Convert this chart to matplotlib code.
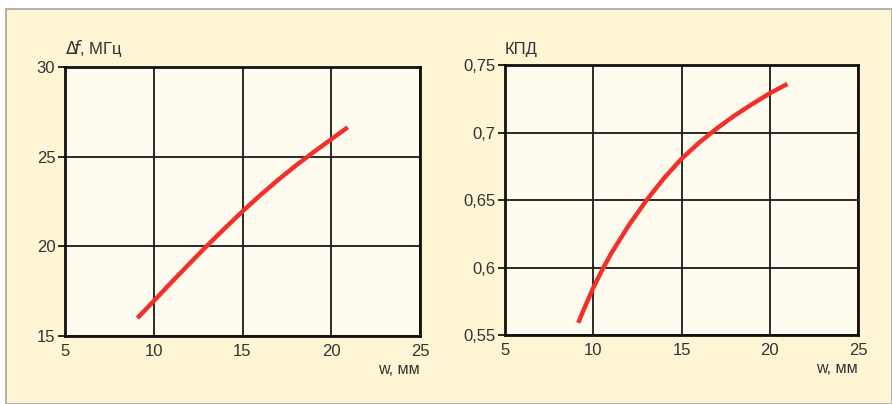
import matplotlib
matplotlib.use("Agg")
import matplotlib.pyplot as plt
from matplotlib.patches import Rectangle
from matplotlib.ticker import FuncFormatter

plt.rcParams['font.family'] = ['Liberation Sans', 'DejaVu Sans']

w_left = [9.08, 10, 11, 12, 13, 14, 15, 16, 17, 18, 19, 20, 20.93]
df_vals = [16.0, 16.95, 18.0, 19.02, 20.03, 21.0, 21.95, 22.85, 23.7, 24.5, 25.25, 25.97, 26.64]

w_right = [9.15, 9.5, 10, 10.5, 11, 12, 13, 14, 15, 16, 17, 18, 19, 20, 21]
kpd_vals = [0.559, 0.570, 0.585, 0.598, 0.610, 0.631, 0.6495, 0.666, 0.6805, 0.6925, 0.703,
            0.7125, 0.721, 0.729, 0.736]

x_ticks = [5, 10, 15, 20, 25]
y_ticks_left = [15, 20, 25, 30]
y_ticks_right = [0.55, 0.6, 0.65, 0.7, 0.75]

W, H = 892, 404
fig = plt.figure(figsize=(W / 100, H / 100), dpi=100)
fig.patch.set_facecolor('white')
fig.patches.append(Rectangle((6 / W, 0), 1 - 6 / W, 1 - 9 / H, transform=fig.transFigure,
                             facecolor='#fdf5d3', edgecolor='#a8a8a0', linewidth=1.2, zorder=-10))

red = '#f0302a'
panel_bg = '#fffcef'


def style(ax, yticks, fmt):
    ax.set_facecolor(panel_bg)
    ax.set_xlim(5, 25)
    ax.set_xticks(x_ticks)
    ax.set_ylim(yticks[0], yticks[-1])
    ax.set_yticks(yticks)
    ax.yaxis.set_major_formatter(FuncFormatter(fmt))
    ax.grid(True, color='#1a1a1a', linewidth=1.3)
    ax.set_axisbelow(True)
    for s in ax.spines.values():
        s.set_linewidth(2.0)
        s.set_color('#111111')
    ax.tick_params(axis='y', length=5, width=1.3, labelsize=12, colors='#111111', pad=2, labelcolor='#333333')
    ax.tick_params(axis='x', length=0, labelsize=12, pad=6, labelcolor='#333333')


ax1 = fig.add_axes([65 / W, 1 - 336 / H, 355 / W, 269 / H])
ax1.set_zorder(1)
style(ax1, y_ticks_left, lambda v, p: f"{v:g}")
ax1.plot(w_left, df_vals, color=red, linewidth=3.2, solid_capstyle='butt',
         solid_joinstyle='round', zorder=3)
ax1.text(0.0, 1.03, r'$\Delta\!f$, МГц', transform=ax1.transAxes, fontsize=12,
         color='#333333', ha='left', va='bottom')
ax1.text(1.0, -0.095, 'w, мм', transform=ax1.transAxes, fontsize=11.5,
         color='#333333', ha='right', va='top')

ax2 = fig.add_axes([505 / W, 1 - 335 / H, 353 / W, 270 / H])
ax2.set_zorder(1)
style(ax2, y_ticks_right, lambda v, p: f"{v:g}".replace('.', ','))
ax2.plot(w_right, kpd_vals, color=red, linewidth=3.2, solid_capstyle='butt',
         solid_joinstyle='round', zorder=3)
ax2.text(0.0, 1.03, 'КПД', transform=ax2.transAxes, fontsize=12,
         color='#333333', ha='left', va='bottom')
ax2.text(1.0, -0.095, 'w, мм', transform=ax2.transAxes, fontsize=11.5,
         color='#333333', ha='right', va='top')

fig.savefig('out.png', dpi=100, facecolor=fig.get_facecolor())
